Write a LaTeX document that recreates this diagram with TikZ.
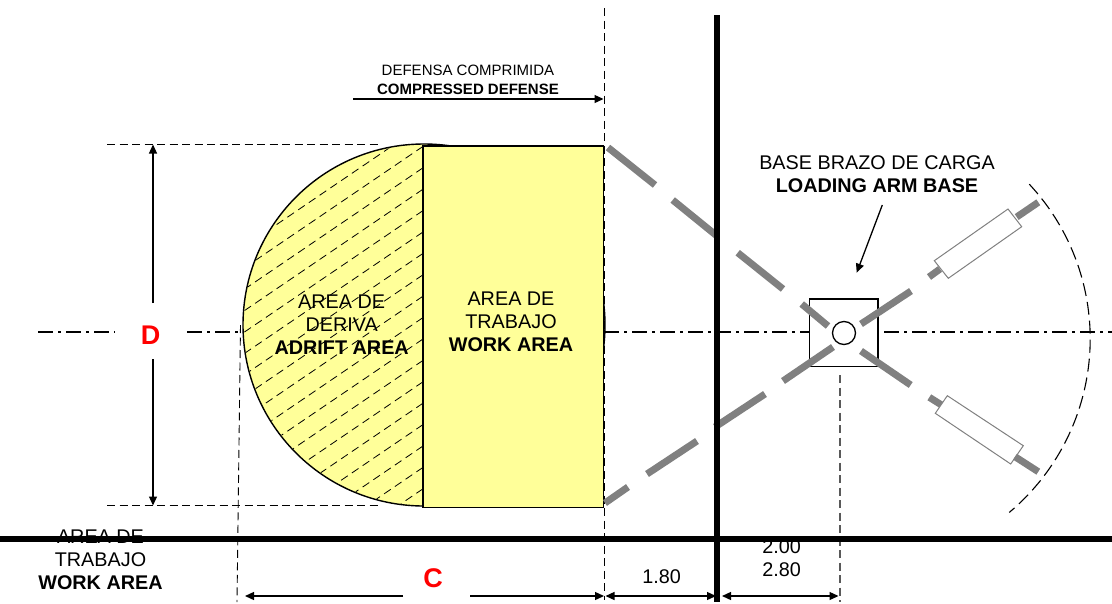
\documentclass[tikz,border=0pt]{standalone}
\usepackage{fontspec}
\setmainfont{Liberation Sans}
\usetikzlibrary{arrows.meta}
\definecolor{padyellow}{HTML}{FFFF99}
\definecolor{armgray}{HTML}{808080}
\tikzset{
  heavy/.style={draw=black,line width=6.5pt},
  outline/.style={draw=black,line width=1.4pt},
  dim/.style={draw=black,line width=1.3pt,-{Triangle[length=9pt,width=8pt]}},
  dimboth/.style={draw=black,line width=1.3pt,{Triangle[length=9pt,width=8pt]}-{Triangle[length=9pt,width=8pt]}},
  guide/.style={draw=black,line width=0.9pt,dash pattern=on 8pt off 4.5pt},
  hatchline/.style={draw=black,line width=0.8pt,dash pattern=on 8pt off 5pt},
  axisline/.style={draw=black,line width=1.2pt,dash pattern=on 15pt off 5pt on 3pt off 5pt},
  arm/.style={draw=armgray,line width=7pt},
  armbox/.style={draw=armgray,line width=1pt,fill=white},
  lab/.style={inner sep=0pt,align=center,font=\fontsize{19.8pt}{23pt}\selectfont},
  smalllab/.style={inner sep=0pt,align=center,font=\fontsize{15pt}{18.7pt}\selectfont},
  redlab/.style={inner sep=0pt,text=red,font=\fontsize{27pt}{30pt}\selectfont\bfseries}
}
\begin{document}
\begin{tikzpicture}[x=1pt,y=-1pt]
\useasboundingbox (0,0) rectangle (1112,603);
% drift area
\draw[outline,fill=padyellow] (424,325) circle[radius=181pt];
\begin{scope}
  \clip (424,325) circle[radius=180pt];
  \clip (243,140) rectangle (423,510);
  \foreach \k in {-1,...,25}{
    \draw[hatchline] (423,{125+21.4*\k}) -- (223,{125+21.4*\k+136});
  }
\end{scope}
% work area
\draw[outline,fill=padyellow] (423,146) rectangle (603.5,507.5);
% guides
\coordinate (g1a) at (604.5,8); \coordinate (g1b) at (604.5,600);
\draw[guide] (g1a) -- (g1b);
\coordinate (g2a) at (240.5,325); \coordinate (g2b) at (237,602);
\draw[guide] (g2a) -- (g2b);
\coordinate (g3a) at (107,144.5); \coordinate (g3b) at (380,144.5);
\draw[guide] (g3a) -- (g3b);
\coordinate (g4a) at (107,505.5); \coordinate (g4b) at (380,505.5);
\draw[guide] (g4a) -- (g4b);
\coordinate (g5a) at (840,375); \coordinate (g5b) at (840,602);
\draw[guide,draw=black!65,line width=1.1pt] (g5a) -- (g5b);
% axis
\draw[axisline] (38,332) -- (115,332);
\draw[axisline] (187,332) -- (243,332);
\draw[axisline] (604,332) -- (810,332);
\draw[axisline] (884,332) -- (1112,332);
% arc
\draw[guide,line width=1.1pt,dash pattern=on 13pt off 6pt] plot[domain=-43:50,samples=60,smooth] ({863.5+226.7*cos(\x)},{338.8+226.7*sin(\x)});
% base
\draw[draw=black,line width=1.3pt] (809.7,299) rectangle (878,366.7);
\draw[draw=black,line width=1.3pt] (844,333) circle[radius=11.5pt];
% loading arm dashes
\draw[arm] (608,147.5) -- (655,185);
\draw[arm] (672.7,200) -- (717,236);
\draw[arm] (737.7,252.7) -- (783,289);
\draw[arm] (801.7,304) -- (828,326);
\draw[arm] (605,503) -- (628,487);
\draw[arm] (647,474) -- (697,441);
\draw[arm] (715,427) -- (765,394);
\draw[arm] (783,381) -- (833,347);
\draw[arm] (861,324) -- (911,291);
\draw[arm] (929,277) -- (940,269);
\draw[armbox] (934.3,260.7) -- (1008,209) -- (1021.7,226.7) -- (948.3,278.3) -- cycle;
\draw[arm] (1016.7,217) -- (1038.3,202.3);
\draw[arm] (861,351) -- (910.7,385);
\draw[arm] (929.3,397.3) -- (942.7,405.7);
\draw[armbox] (947.3,395.7) -- (1023.3,445.7) -- (1010.7,464) -- (935.3,413.3) -- cycle;
\draw[arm] (1015,456.7) -- (1038.3,471.7);
% labels
\node[lab] (drift) at (341.7,325) {AREA DE\\DERIVA\\\textbf{ADRIFT AREA}};
\node[lab] (work) at (511,321.5) {AREA DE\\TRABAJO\\\textbf{WORK AREA}};
\node[lab] (workb) at (100.5,560) {AREA DE\\TRABAJO\\\textbf{WORK AREA}};
\node[lab] (base) at (877,174) {BASE BRAZO DE CARGA\\\textbf{LOADING ARM BASE}};
\node[smalllab] (def) at (468,79.5) {DEFENSA COMPRIMIDA\\\textbf{COMPRESSED DEFENSE}};
\node[lab] (dimr) at (781.7,558.5) {2.00\\2.80};
\node[lab] (dimm) at (661.7,577) {1.80};
\node[redlab] (D) at (150.5,335) {D};
\node[redlab] (C) at (433,578) {C};
% heavy lines
\draw[heavy] (717,15) -- (717,602);
\draw[heavy,line width=6pt] (0,539) -- (1112,539);
% dimension arrows
\coordinate (da) at (153,144.5); \coordinate (db) at (153,303);
\coordinate (dc) at (153,359); \coordinate (dd) at (153,505.5);
\draw[dim] (db) -- (da);
\draw[dim] (dc) -- (dd);
\coordinate (ca) at (403,596); \coordinate (cb) at (245,596);
\coordinate (cc) at (470,596); \coordinate (cd) at (604,596);
\draw[dim] (ca) -- (cb);
\draw[dim] (cc) -- (cd);
\coordinate (ma) at (605.5,596); \coordinate (mb) at (716,596);
\draw[dimboth] (ma) -- (mb);
\coordinate (ra) at (722,596); \coordinate (rb) at (838.5,596);
\draw[dimboth] (ra) -- (rb);
\coordinate (pa) at (353,99); \coordinate (pb) at (603.5,99);
\draw[dim] (pa) -- (pb);
\coordinate (la) at (882.3,205); \coordinate (lb) at (856.7,272.7);
\draw[dim] (la) -- (lb);
\end{tikzpicture}
\end{document}
